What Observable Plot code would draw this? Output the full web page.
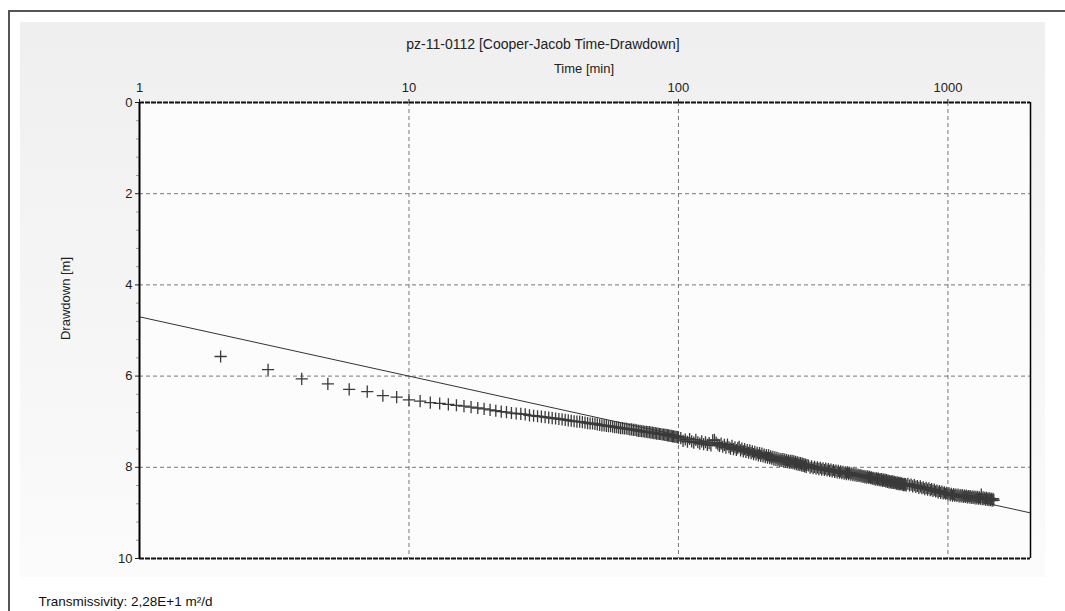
<!DOCTYPE html>
<html><head><meta charset="utf-8">
<script src="https://cdn.jsdelivr.net/npm/d3@7"></script>
<script src="https://cdn.jsdelivr.net/npm/@observablehq/plot@0.6"></script>
<style>
body{margin:0;background:#fff;font-family:"Liberation Sans",Arial,sans-serif;}
#wrap{position:relative;width:1065px;height:611px;overflow:hidden;background:#fff;}
#frame{position:absolute;left:8px;top:10px;width:1060px;height:610px;border-left:2px solid #555;border-top:2px solid #555;}
#panel{position:absolute;left:20px;top:22px;width:1025px;height:555px;background:linear-gradient(#efefef,#fbfbfb);}
#chart{position:absolute;left:0;top:0;}
</style></head>
<body><div id="wrap"><div id="frame"></div><div id="panel"></div><div id="chart"></div></div>
<script>
// ---- data ----
const title = "pz-11-0112 [Cooper-Jacob Time-Drawdown]";
const xLabel = "Time [min]";
const yLabel = "Drawdown [m]";
const note = "Transmissivity: 2,28E+1 m²/d";
const xTicks = [1, 10, 100, 1000];
const yTicks = [0, 2, 4, 6, 8, 10];

// readings one per minute (t = 2 ... 100)
const seg1 = [5.57,5.86,6.06,6.17,6.29,6.34,6.43,6.46,6.52,
 6.55,6.58,6.60,6.62,6.64,6.66,6.68,6.70,6.72,6.74,
 6.76,6.78,6.79,6.81,6.82,6.83,6.84,6.86,6.87,6.88,
 6.89,6.90,6.91,6.92,6.93,6.94,6.95,6.96,6.97,6.98,
 6.99,7.00,7.00,7.01,7.02,7.03,7.04,7.04,7.05,7.06,
 7.07,7.08,7.08,7.09,7.10,7.10,7.11,7.12,7.12,7.13,
 7.14,7.14,7.15,7.15,7.16,7.17,7.17,7.18,7.18,7.19,
 7.20,7.20,7.21,7.21,7.22,7.22,7.23,7.23,7.24,7.24,
 7.25,7.25,7.26,7.26,7.27,7.27,7.28,7.28,7.29,7.29,
 7.30,7.30,7.31,7.31,7.32,7.32,7.33,7.33,7.34,7.35];
// readings every 2 minutes (t = 102 ... 300)
const seg2 = [7.36,7.42,7.39,7.44,7.38,7.43,7.46,7.40,7.45,7.48,
 7.43,7.49,7.45,7.51,7.47,7.52,7.41,7.40,7.46,7.50,
 7.53,7.48,7.55,7.51,7.57,7.50,7.56,7.59,7.53,7.60,
 7.56,7.62,7.58,7.55,7.63,7.59,7.65,7.60,7.66,7.62,
 7.68,7.63,7.69,7.65,7.71,7.66,7.72,7.68,7.74,7.69,
 7.75,7.70,7.76,7.72,7.78,7.73,7.79,7.74,7.80,7.76,
 7.81,7.77,7.83,7.78,7.84,7.79,7.85,7.81,7.86,7.82,
 7.86,7.82,7.87,7.83,7.88,7.84,7.89,7.85,7.90,7.86,
 7.90,7.86,7.91,7.87,7.92,7.88,7.93,7.89,7.94,7.90,
 7.95,7.91,7.96,7.92,7.97,7.93,7.98,7.94,7.99,7.95];
// readings every 4 minutes (t = 304 ... 700)
const seg3 = [7.96,8.01,7.98,8.02,7.99,8.03,8.00,8.04,8.01,8.05,
 8.02,8.06,8.03,8.07,8.04,8.08,8.05,8.09,8.06,8.10,
 8.07,8.11,8.08,8.12,8.09,8.13,8.10,8.14,8.11,8.15,
 8.11,8.15,8.12,8.16,8.13,8.17,8.14,8.18,8.15,8.19,
 8.16,8.19,8.17,8.20,8.18,8.21,8.19,8.22,8.20,8.23,
 8.20,8.23,8.21,8.24,8.22,8.25,8.23,8.26,8.24,8.27,
 8.24,8.27,8.25,8.28,8.26,8.29,8.26,8.30,8.27,8.30,
 8.27,8.31,8.28,8.32,8.29,8.33,8.30,8.33,8.31,8.34,
 8.31,8.34,8.32,8.35,8.33,8.36,8.33,8.37,8.34,8.37,
 8.34,8.37,8.35,8.38,8.36,8.39,8.36,8.39,8.37,8.40];
// readings every 10 minutes (t = 710 ... 1480)
const seg4 = [8.36,8.40,8.38,8.42,8.39,8.43,8.41,8.45,8.42,8.46,
 8.44,8.48,8.45,8.49,8.46,8.50,8.48,8.52,8.49,8.53,
 8.51,8.55,8.52,8.56,8.53,8.57,8.55,8.58,8.56,8.60,
 8.57,8.61,8.58,8.62,8.59,8.62,8.60,8.63,8.60,8.64,
 8.61,8.64,8.61,8.65,8.62,8.65,8.62,8.66,8.63,8.66,
 8.63,8.67,8.64,8.67,8.64,8.68,8.65,8.68,8.65,8.69,
 8.66,8.69,8.60,8.70,8.66,8.70,8.67,8.71,8.67,8.71,
 8.68,8.72,8.68,8.72,8.69,8.73,8.69,8.72];
// Cooper-Jacob fitted straight line end points
const fitTime = [1, 2025];
const fitDrawdown = [4.7, 9.0];

// ---- build tables ----
const points = [
  ...seg1.map((s, i) => ({t: 2 + i, s})),
  ...seg2.map((s, i) => ({t: 102 + 2 * i, s})),
  ...seg3.map((s, i) => ({t: 304 + 4 * i, s})),
  ...seg4.map((s, i) => ({t: 710 + 10 * i, s}))
];
const fit = fitTime.map((t, i) => ({t, s: fitDrawdown[i]}));
const minorX = [2,3,4,5,6,7,8,9,20,30,40,50,60,70,80,90,200,300,400,500,600,700,800,900,2000];
const minorY = [0.4,0.8,1.2,1.6,2.4,2.8,3.2,3.6,4.4,4.8,5.2,5.6,6.4,6.8,7.2,7.6,8.4,8.8,9.2,9.6];

const font = "'Liberation Sans', Arial, sans-serif";
const grid = {stroke: "#777", strokeWidth: 1, strokeDasharray: "4,3"};
const chart = Plot.plot({
  width: 1065, height: 611,
  marginLeft: 139, marginRight: 35, marginTop: 102, marginBottom: 53,
  style: {background: "transparent", fontFamily: font, fontSize: "13px", color: "#222"},
  x: {type: "log", domain: [1, 2025]},
  y: {domain: [0, 10], reverse: true},
  marks: [
    Plot.frame({fill: "#fcfcfc", stroke: "none"}),
    Plot.ruleY([2, 4, 6, 8], grid),
    Plot.ruleX([10, 100, 1000], grid),
    Plot.axisX({anchor: "top", ticks: xTicks, tickFormat: d => String(d), tickSize: 4, tickPadding: 7, label: null, fontSize: 13}),
    Plot.axisX({anchor: "top", ticks: minorX, tickFormat: () => "", tickSize: 2, label: null, stroke: "#999"}),
    Plot.axisY({ticks: yTicks, tickSize: 4, tickPadding: 3, label: null, fontSize: 13}),
    Plot.axisY({ticks: minorY, tickFormat: () => "", tickSize: 3, label: null, stroke: "#999"}),
    Plot.line(fit, {x: "t", y: "s", stroke: "#333", strokeWidth: 1}),
    Plot.dot(points, {x: "t", y: "s", symbol: "plus", r: 4, stroke: "#3a3a3a", strokeWidth: 1.3}),
    Plot.ruleY([0], {stroke: "#111", strokeWidth: 2, strokeDasharray: "5,1"}),
    Plot.ruleY([10], {stroke: "#111", strokeWidth: 2, strokeDasharray: "5,1"}),
    Plot.ruleX([1], {stroke: "#000", strokeWidth: 2}),
    Plot.ruleX([2025], {stroke: "#000", strokeWidth: 1.5}),
    Plot.text([title], {frameAnchor: "top", dx: -42, dy: -58, lineAnchor: "middle", fontSize: 14, fill: "#222"}),
    Plot.text([xLabel], {frameAnchor: "top", dx: -1, dy: -34, lineAnchor: "middle", fontSize: 13, fill: "#222"}),
    Plot.text([yLabel], {frameAnchor: "left", dx: -74, dy: -32, rotate: -90, textAnchor: "middle", lineAnchor: "middle", fontSize: 13, fill: "#222"}),
    Plot.text([note], {frameAnchor: "bottom-left", dx: -101, dy: 43, textAnchor: "start", lineAnchor: "middle", fontSize: 13.5, fill: "#111"})
  ]
});
document.getElementById("chart").appendChild(chart);
</script>
</body></html>
